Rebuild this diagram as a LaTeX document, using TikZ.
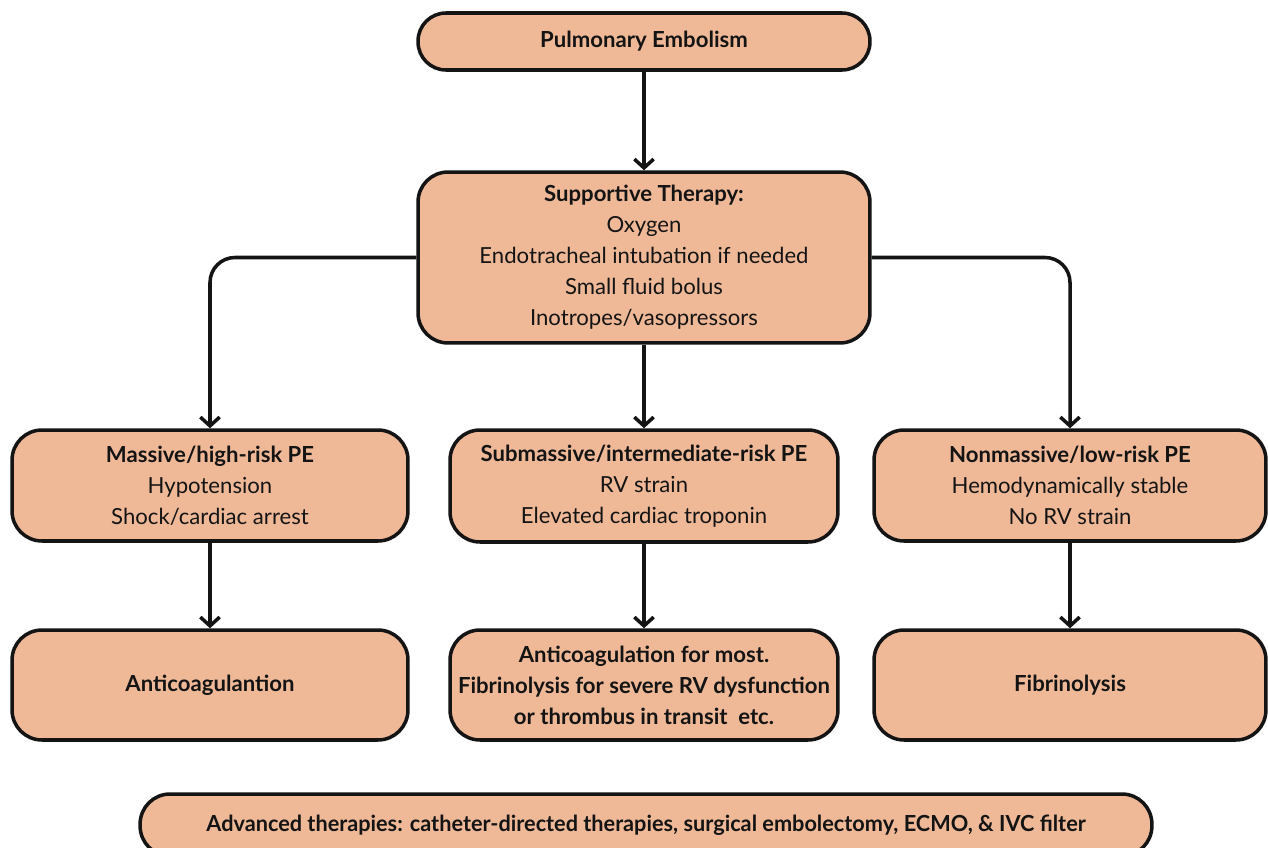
\documentclass[tikz,border=0pt]{standalone}
\usepackage{fontspec}
\setmainfont{Lato}
\usetikzlibrary{arrows.meta}
\definecolor{peach}{HTML}{EFB998}
\definecolor{ink}{HTML}{141414}
\tikzset{
  box/.style={draw=ink, fill=peach, line width=2pt, align=center, inner sep=0pt,
    font=\fontsize{12.6}{17.6}\selectfont, text=ink},
  conn/.style={draw=ink, line width=2pt, -{Straight Barb[length=5pt,width=11pt]}},
}
\begin{document}
\begin{tikzpicture}[x=0.02cm,y=-0.02cm]
\clip (0,0) rectangle (1268,848);
\fill[white] (0,0) rectangle (1268,848);
\node[box, rounded corners=0.56cm, minimum width=9.04cm, minimum height=1.14cm] (pe) at (644,41.5) {\textbf{Pulmonary Embolism}};
\node[box, rounded corners=0.6cm, minimum width=9.04cm, minimum height=3.42cm] (sup) at (644,257.5)
  {\textbf{Supportive Therapy:}\\Oxygen\\Endotracheal intubation if needed\\Small fluid bolus\\Inotropes/vasopressors};
\node[box, rounded corners=0.6cm, minimum width=7.92cm, minimum height=2.22cm] (mass) at (210,485.5)
  {\textbf{Massive/high-risk PE}\\Hypotension\\Shock/cardiac arrest};
\node[box, rounded corners=0.6cm, minimum width=7.76cm, minimum height=2.24cm] (sub) at (644,486)
  {\textbf{Submassive/intermediate-risk PE}\\RV strain\\Elevated cardiac troponin};
\node[box, rounded corners=0.6cm, minimum width=7.84cm, minimum height=2.22cm] (non) at (1070,485.5)
  {\textbf{Nonmassive/low-risk PE}\\Hemodynamically stable\\No RV strain};
\node[box, rounded corners=0.6cm, minimum width=7.92cm, minimum height=2.2cm] (anti) at (210,685)
  {\textbf{Anticoagulantion}};
\node[box, rounded corners=0.6cm, minimum width=7.76cm, minimum height=2.2cm] (subres) at (644,685)
  {\textbf{Anticoagulation for most.}\\\textbf{Fibrinolysis for severe RV dysfunction}\\\textbf{or thrombus in transit\ \ etc.}};
\node[box, rounded corners=0.6cm, minimum width=7.84cm, minimum height=2.2cm] (fib) at (1070,685)
  {\textbf{Fibrinolysis}};
\node[box, rounded corners=0.6cm, minimum width=20.24cm, minimum height=1.24cm] (adv) at (646,825)
  {\scalebox{0.98}[1]{\textbf{Advanced therapies: catheter-directed therapies, surgical embolectomy, ECMO, \& IVC filter}}};
\draw[conn] (pe) -- (sup);
\draw[conn] (sup) -- (sub);
\draw[conn, rounded corners=0.5cm] (sup.west) -| (mass.north);
\draw[conn, rounded corners=0.5cm] (sup.east) -| (non.north);
\draw[conn] (mass) -- (anti);
\draw[conn] (sub) -- (subres);
\draw[conn] (non) -- (fib);
\end{tikzpicture}
\end{document}
